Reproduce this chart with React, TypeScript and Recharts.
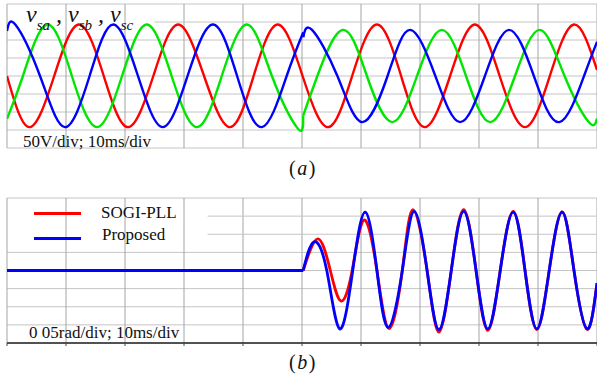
import { LineChart, Line, XAxis, YAxis, CartesianGrid, ReferenceLine } from "recharts";

type Pt = [number, number];

const TIME_TICKS = [0, 10, 20, 30, 40, 50, 60, 70, 80, 90, 100];
const VOLT_TICKS = [-200, -150, -100, -50, 0, 50, 100, 150, 200];
const ANGLE_TICKS = [-0.2, -0.15, -0.1, -0.05, 0, 0.05, 0.1, 0.15, 0.2];

// grid rows partly hidden behind the title box (a) and the legend box (b)
const VOLT_GRID = [-200, -150, -100, -50, 0, 50, 100, 200];
const VOLT_GRID_PART = [150];
const TITLE_END = 25;
const ANGLE_GRID = [-0.2, -0.15, -0.1, -0.05, 0, 0.05, 0.2];
const ANGLE_GRID_PART = [0.15, 0.1];
const LEGEND_END = 34;

// (a) phase voltages, [ms, V] at the peaks, troughs and zero crossings
const VSA: Pt[] = [
  [0, 0], [3.8, -142], [8.0, 0], [12.2, 143], [16.4, 0], [20.5, -142],
  [24.8, 0], [29.0, 143], [33.4, 0], [37.8, -142], [41.8, 0], [45.9, 143],
  [50.1, 0], [54.4, -142], [58.5, 0], [62.7, 143], [66.8, 0], [70.8, -142],
  [75.1, 0], [79.3, 143], [83.5, 0], [87.8, -142], [92.0, 0], [96.1, 143],
  [100, 17],
];

const VSB_BEFORE: Pt[] = [
  [0, 125], [1.4, 143], [5.6, 0], [9.8, -142], [14.0, 0], [18.0, 143],
  [22.2, 0], [26.4, -142], [30.6, 0], [34.9, 143], [39.0, 0], [43.2, -142],
  [47.4, 0], [50.2, 121],
];
const VSB_STEP: Pt[] = [[50.2, 121], [50.2, 108]];
const VSB_AFTER: Pt[] = [
  [50.2, 108], [51.7, 128], [56.0, 0], [60.2, -128], [64.5, 0], [68.3, 128],
  [72.6, 0], [76.8, -128], [81.0, 0], [85.1, 128], [89.3, 0], [93.6, -128],
  [97.8, 0], [100, 95],
];

const VSC_BEFORE: Pt[] = [
  [0, -119], [2.7, 0], [6.8, 143], [11.0, 0], [15.25, -142], [19.5, 0],
  [23.7, 143], [27.9, 0], [32.2, -142], [36.4, 0], [40.7, 143], [44.9, 0],
  [49.1, -142], [50.2, -134],
];
const VSC_STEP: Pt[] = [[50.2, -134], [50.2, -110]];
const VSC_AFTER: Pt[] = [
  [50.2, -110], [52.6, 0], [56.9, 128], [61.0, 0], [65.3, -128], [69.5, 0],
  [73.7, 128], [77.8, 0], [81.9, -128], [86.1, 0], [90.3, 128], [94.5, 0],
  [98.6, -128], [100, -118],
];

// (b) phase error, [ms, rad]
const ERR_FLAT: Pt[] = [[0, 0], [50.2, 0]];
const SOGI_PLL: Pt[] = [
  [50.2, 0], [52.7, 0.087], [54.8, 0], [56.6, -0.084], [58.5, 0], [60.5, 0.139],
  [62.7, 0], [64.75, -0.16], [67.0, 0], [68.8, 0.168], [71.2, 0], [73.2, -0.17],
  [75.3, 0], [77.4, 0.168], [79.5, 0], [81.5, -0.165], [83.6, 0], [85.8, 0.163],
  [87.8, 0], [89.8, -0.163], [91.9, 0], [94.1, 0.162], [96.1, 0], [98.3, -0.162],
  [100, -0.035],
];
const PROPOSED: Pt[] = [
  [50.2, 0], [52.0, 0.079], [54.2, 0], [56.4, -0.161], [58.6, 0], [60.7, 0.161],
  [62.7, 0], [64.6, -0.157], [67.0, 0], [69.0, 0.163], [71.2, 0], [73.2, -0.163],
  [75.3, 0], [77.4, 0.163], [79.5, 0], [81.5, -0.161], [83.6, 0], [85.8, 0.161],
  [87.8, 0], [89.8, -0.161], [91.9, 0], [94.1, 0.161], [96.1, 0], [98.3, -0.161],
  [100, -0.035],
];

const RED = "#ff0000";
const GREEN = "#00e600";
const BLUE = "#0000ff";
const GRID_H = "#c4c4c4";
const GRID_V = "#a4a4a4";
const SERIF = '"Liberation Serif", "Times New Roman", serif';

const toRows = (pts: Pt[]) => pts.map(([t, v]) => ({ t, v }));

function trace(key: string, pts: Pt[], color: string, width: number, curve: "natural" | "linear" = "natural") {
  return (
    <Line
      key={key}
      data={toRows(pts)}
      dataKey="v"
      type={curve}
      stroke={color}
      strokeWidth={width}
      dot={false}
      activeDot={false}
      isAnimationActive={false}
    />
  );
}

function partialRows(values: number[], from: number) {
  return values.map((v) => (
    <ReferenceLine
      key={`g${v}`}
      segment={[{ x: from, y: v }, { x: 100, y: v }]}
      stroke={GRID_H}
      strokeWidth={1}
    />
  ));
}

const blank = () => "";

function sideAxes(domain: [number, number], ticks: number[], edge: string) {
  return [
    <YAxis
      key="l"
      type="number"
      domain={domain}
      ticks={ticks}
      width={0}
      mirror
      tickSize={5}
      tickFormatter={blank}
      axisLine={{ stroke: edge, strokeWidth: 1.5 }}
      tickLine={{ stroke: edge }}
      allowDataOverflow
    />,
    <YAxis
      key="r"
      yAxisId="r"
      orientation="right"
      type="number"
      domain={domain}
      ticks={ticks}
      width={0}
      mirror
      tickSize={5}
      tickFormatter={blank}
      axisLine={false}
      tickLine={{ stroke: "#666" }}
    />,
  ];
}

const sub = { fontSize: 15, verticalAlign: -8 };

export default function App() {
  return (
    <div
      style={{
        position: "absolute",
        left: 0,
        top: 0,
        width: 597,
        height: 385,
        background: "#fff",
        overflow: "hidden",
        fontFamily: SERIF,
        color: "#111",
      }}
    >
      <div style={{ position: "absolute", left: 0, top: 0 }}>
        <LineChart width={597} height={150} margin={{ top: 4, right: 0, bottom: 2, left: 7 }}>
          <CartesianGrid horizontal vertical={false} horizontalValues={VOLT_GRID} stroke={GRID_H} />
          <CartesianGrid horizontal={false} vertical stroke={GRID_V} />
          <XAxis dataKey="t" type="number" domain={[0, 100]} ticks={TIME_TICKS} hide allowDataOverflow />
          {sideAxes([-200, 200], VOLT_TICKS, "#555")}
          {partialRows(VOLT_GRID_PART, TITLE_END)}
          {trace("a", VSA, RED, 2.4)}
          {trace("c0", VSC_BEFORE, GREEN, 2.4)}
          {trace("c1", VSC_STEP, GREEN, 2.4, "linear")}
          {trace("c2", VSC_AFTER, GREEN, 2.4)}
          {trace("b0", VSB_BEFORE, BLUE, 2.4)}
          {trace("b1", VSB_STEP, BLUE, 2.4, "linear")}
          {trace("b2", VSB_AFTER, BLUE, 2.4)}
        </LineChart>
      </div>

      <div
        style={{
          position: "absolute",
          left: 26,
          top: 2,
          fontSize: 24,
          lineHeight: "24px",
          fontStyle: "italic",
          whiteSpace: "nowrap",
        }}
      >
        v<span style={sub}>sa</span> , v<span style={sub}>sb</span> , v<span style={sub}>sc</span>
      </div>
      <div style={{ position: "absolute", left: 23, top: 133, fontSize: 17, lineHeight: "17px", whiteSpace: "nowrap" }}>
        50V/div; 10ms/div
      </div>
      <div style={{ position: "absolute", left: 283, top: 158, width: 40, textAlign: "center", fontSize: 20, lineHeight: "20px", letterSpacing: 1.5 }}>
        (<i>a</i>)
      </div>

      <div style={{ position: "absolute", left: 0, top: 194 }}>
        <LineChart width={597} height={155} margin={{ top: 4, right: 0, bottom: 0, left: 7 }}>
          <CartesianGrid horizontal vertical={false} horizontalValues={ANGLE_GRID} stroke={GRID_H} />
          <CartesianGrid horizontal={false} vertical stroke={GRID_V} />
          <XAxis
            dataKey="t"
            type="number"
            domain={[0, 100]}
            ticks={TIME_TICKS}
            height={6}
            tickSize={3}
            tickFormatter={blank}
            axisLine={{ stroke: "#222", strokeWidth: 1.5 }}
            tickLine={{ stroke: "#444" }}
            allowDataOverflow
          />
          {sideAxes([-0.2, 0.2], ANGLE_TICKS, "#333")}
          {partialRows(ANGLE_GRID_PART, LEGEND_END)}
          {trace("s0", ERR_FLAT, RED, 2.8, "linear")}
          {trace("s1", SOGI_PLL, RED, 2.8)}
          {trace("p0", ERR_FLAT, BLUE, 2.8, "linear")}
          {trace("p1", PROPOSED, BLUE, 2.8)}
        </LineChart>
      </div>

      <div style={{ position: "absolute", left: 34, top: 201, fontSize: 17, whiteSpace: "nowrap" }}>
        <div style={{ display: "flex", alignItems: "center", height: 24 }}>
          <div style={{ width: 47, height: 3, background: RED, marginRight: 20 }} />
          <span>SOGI-PLL</span>
        </div>
        <div style={{ display: "flex", alignItems: "center", height: 24, marginTop: 1 }}>
          <div style={{ width: 47, height: 3, background: BLUE, marginRight: 21 }} />
          <span style={{ position: "relative", top: -3 }}>Proposed</span>
        </div>
      </div>
      <div style={{ position: "absolute", left: 29, top: 324, fontSize: 17, lineHeight: "17px", whiteSpace: "nowrap" }}>
        0 05rad/div; 10ms/div
      </div>
      <div style={{ position: "absolute", left: 283, top: 352, width: 40, textAlign: "center", fontSize: 20, lineHeight: "20px", letterSpacing: 1.5 }}>
        (<i>b</i>)
      </div>
    </div>
  );
}
